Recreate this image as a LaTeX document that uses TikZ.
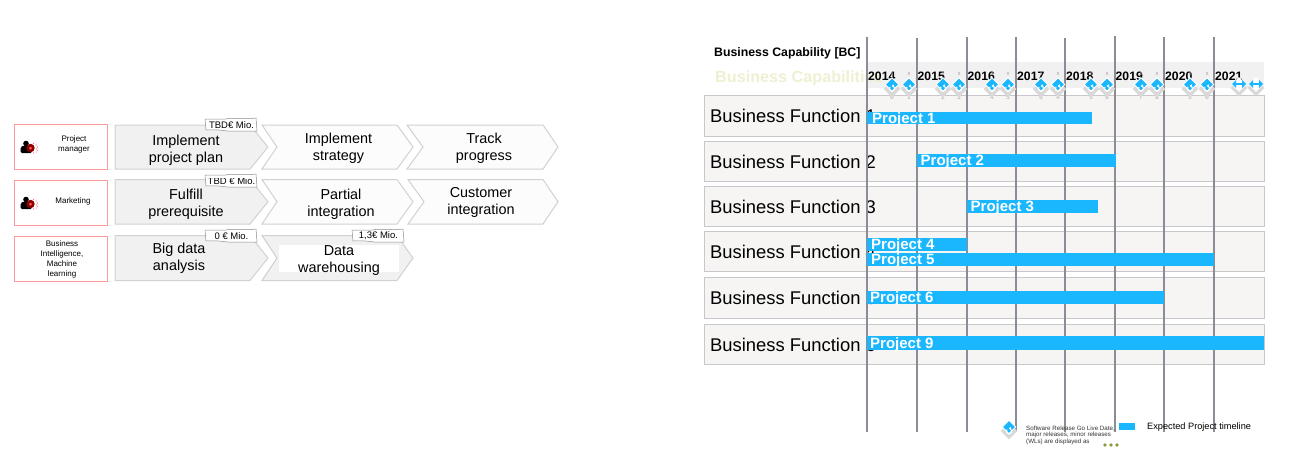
\documentclass[tikz,border=0pt]{standalone}
\usepackage{fontspec}
\setmainfont{Liberation Sans}
\usetikzlibrary{shapes.geometric, arrows.meta}

\definecolor{barblue}{HTML}{1AB7FF}
\definecolor{gridgrey}{HTML}{8C8C96}
\definecolor{rowfill}{HTML}{F6F5F4}
\definecolor{rowline}{HTML}{C8C8CC}
\definecolor{bandgrey}{HTML}{F1F1F1}
\definecolor{paleolive}{HTML}{EFF0D2}
\definecolor{roleline}{HTML}{FF9A9A}
\definecolor{olivedot}{HTML}{8F9A3C}

\tikzset{
    rolebox/.style={draw=roleline, line width=1pt, fill=white, minimum width=93.5pt, minimum height=45pt, inner sep=0pt},
    roletext/.style={font=\fontsize{8}{10}\selectfont, align=center, inner sep=0pt},
    chevronline/.style={draw=black!18, line width=1pt},
    stepname/.style={font=\fontsize{14.4}{17}\selectfont, align=center, inner sep=0pt},
    badgeline/.style={draw=black!45, fill=white, line width=0.5pt},
    badgetext/.style={font=\fontsize{9.5}{10}\selectfont, inner sep=0pt},
    rowbox/.style={draw=rowline, fill=rowfill, line width=1pt, minimum width=559.5pt, inner sep=0pt, anchor=north west},
    rowtext/.style={font=\fontsize{18.4}{20}\selectfont, anchor=west, inner sep=0pt},
    projbar/.style={fill=barblue, inner sep=0pt, anchor=north west},
    projtext/.style={font=\fontsize{15}{15}\bfseries\selectfont, text=white, anchor=west, inner sep=0pt},
    yeartext/.style={font=\fontsize{12.2}{12}\bfseries\selectfont, anchor=west, inner sep=0pt},
    backdiamond/.style={diamond, aspect=1, fill=black!15, minimum size=17pt, inner sep=0pt},
    whitediamond/.style={diamond, aspect=1, fill=white, minimum size=15pt, inner sep=0pt},
    bluediamond/.style={diamond, aspect=1, fill=barblue, minimum size=12pt, inner sep=0pt},
    tinytext/.style={font=\fontsize{6}{6}\selectfont, text=black!35, inner sep=0pt},
    legendtext/.style={font=\fontsize{6.2}{6.6}\selectfont, align=left, anchor=west, inner sep=0pt, text=black!80},
}

\begin{document}
\begin{tikzpicture}[x=1pt, y=-1pt]
    \useasboundingbox (0,0) rectangle (1299,471);

    % Left part: roles
    \node[rolebox] (role1) at (61.2,146.5) {};
    \node[rolebox] (role2) at (61.2,202.5) {};
    \node[rolebox] (role3) at (61.2,258.5) {};
    \node[roletext] (roletext1) at (74,144.5) {Project\\manager};
    \node[roletext] (roletext2) at (73,201.5) {Marketing};
    \node[roletext] (roletext3) at (62,259) {Business\\Intelligence,\\Machine\\learning};

    % Person icons
    \foreach \y in {147,203} {
        \fill[black] (26,\y-3.5) circle (2.8);
        \fill[black, rounded corners=1.5] (20.5,\y+6) -- (20.5,\y) -- (24,\y-1.5) -- (29,\y-1.5) -- (32,\y) -- (32,\y+6) -- cycle;
        \fill[red!55!black] (30.5,\y+1) circle (4.2);
        \fill[red!65] (30.5,\y+1) circle (1.5);
        \foreach \dx/\dy in {5.5/-3,6/1,5.5/4,3/-4.5,3/5,7/-1,7/2.5}
            \fill[red!55] (30.5+\dx,\y+1+\dy) circle (0.6);
    }

    % Chevrons
    \foreach \xa/\xb/\xc/\xd/\ya/\yb/\col in {
        115/115/250/268/125/169/bandgrey,
        262/277/397/413/125/169/black!1,
        407/423/543/558/125/169/black!1,
        115/115/250/268/179.5/224/bandgrey,
        262/277/397/413/179.5/224/black!1,
        408/424/543/558/179.5/224/black!1,
        115/115/250/268/235.5/280.5/bandgrey,
        262/277/397/413/235.5/280.5/bandgrey} {
        \draw[chevronline, fill=\col] (\xa,\ya) -- (\xc,\ya) -- (\xd,{(\ya+\yb)/2}) -- (\xc,\yb) -- (\xa,\yb) -- (\xb,{(\ya+\yb)/2}) -- cycle;
    }
    \fill[white] (279,245) rectangle (399,272);

    \node[stepname] (step1) at (186,150.5) {Implement\\project plan};
    \node[stepname] (step2) at (338.5,148.5) {Implement\\strategy};
    \node[stepname] (step3) at (484,148.5) {Track\\progress};
    \node[stepname] (step4) at (186,204.5) {Fulfill\\prerequisite};
    \node[stepname] (step5) at (341,204.5) {Partial\\integration};
    \node[stepname] (step6) at (481,202.5) {Customer\\integration};
    \node[stepname] (step7) at (179,258) {Big data\\analysis};
    \node[stepname] (step8) at (339,261) {Data\\warehousing};

    % Cost tags
    \foreach \i/\x/\y/\cut/\cost in {
        1/205/118/100/{TBD€ Mio.},
        2/205/174/178/{TBD € Mio.},
        3/205/229/200/{0 € Mio.},
        4/352/229/200/{1,3€ Mio.}} {
        \draw[badgeline] (\x,\y+1) -- (\x+21,\y+1) .. controls (\x+27,\y-1) and (\x+38,\y+2) .. (\x+51,\y) -- (\x+52,\y+13) -- (\x+28,\y+13) .. controls (\x+22,\y+14) and (\x+18,\y+11) .. (\x+1,\y+12) -- cycle;
        \begin{scope}
            \clip (\x,\cut) rectangle (\x+52,\y+13);
            \node[badgetext] (cost\i) at (\x+26.5,\y+7) {\cost};
        \end{scope}
    }

    % Right part: header
    \node[font=\fontsize{12.3}{12}\bfseries\selectfont, anchor=west, inner sep=0pt] (title) at (714,53) {Business Capability [BC]};
    \fill[bandgrey] (867,62) rectangle (1264,88);
    \node[font=\fontsize{16.2}{16}\bfseries\selectfont, text=paleolive, anchor=west, inner sep=0pt] (subtitle) at (715,78.5) {Business Capabilities};

    % Rows
    \foreach \i/\y/\h in {1/95/41, 2/141/40, 3/186/40, 4/231/40, 5/277/41, 6/324/40} {
        \node[rowbox, minimum height=\h pt] (row\i) at (704,\y) {};
        \node[rowtext] (rowtext\i) at ([xshift=6pt]row\i.west) {Business Function \i};
    }

    % Year lines
    \foreach \x/\t in {867/37, 917/38, 967/37, 1016/37, 1065/38, 1115/36, 1164/37, 1214/37} {
        \draw[gridgrey, line width=2pt] (\x,\t) -- (\x,432);
    }

    % Years
    \foreach \x/\yr in {868/2014, 917.5/2015, 967.5/2016, 1017/2017, 1066/2018, 1115.5/2019, 1165/2020, 1215/2021} {
        \node[yeartext] (y\yr) at (\x,76) {\yr};
    }

    % Releases
    \foreach \i/\x/\d in {1/892/0, 2/909/1, 3/943/2, 4/959/3, 5/992/4, 6/1008/5, 7/1041/6, 8/1058/4, 9/1091/5, 10/1107/6, 11/1141/7, 12/1157/8, 13/1190/5, 14/1207/0} {
        \node[tinytext] (num\i) at (\x,97) {\d};
        \node[backdiamond] (back\i) at (\x,89) {};
        \node[whitediamond] (white\i) at (\x,84.5) {};
        \node[bluediamond] (blue\i) at (\x,84.5) {};
        \node[tinytext] (top\i) at (\x,74) {x};
        \draw[white, line width=1pt, -{Latex[length=2.5pt,width=3pt]}] (\x-2,87) arc[start angle=220, end angle=-100, radius=2.6];
    }
    \foreach \i/\x in {15/1239, 16/1256} {
        \node[backdiamond] (back\i) at (\x,88) {};
        \node[whitediamond] (white\i) at (\x,84.5) {};
        \draw[barblue, line width=2.5pt] (\x-4,84) -- (\x+4,84);
        \fill[barblue] (\x-7,84) -- (\x-3,80) -- (\x-3,88) -- cycle;
        \fill[barblue] (\x+7,84) -- (\x+3,80) -- (\x+3,88) -- cycle;
    }

    % Project bars
    \foreach \i/\x/\y/\w/\h/\lx in {
        1/867/112/225/12/872,
        2/917/154/198.5/13/920.5,
        3/967/200/131/13/970.5,
        4/867/238/100/13/871,
        5/867/252.3/347/13.7/871,
        6/867/291/297/13/870,
        9/867/336/397/14/870} {
        \node[projbar, minimum width=\w pt, minimum height=\h pt] (bar\i) at (\x,\y) {};
        \node[projtext] (proj\i) at (\lx,\y+\h/2+1.5) {Project \i};
    }

    % Legend
    \node[backdiamond] (legback) at (1009,431) {};
    \node[whitediamond] (legwhite) at (1009,427) {};
    \node[bluediamond] (legblue) at (1009,427) {};
    \draw[white, line width=1pt, -{Latex[length=2.5pt,width=3pt]}] (1007,429.5) arc[start angle=220, end angle=-100, radius=2.6];
    \node[legendtext] (legtext) at (1026,435) {Software Release Go Live Date,\\major releases, minor releases\\(WLs) are displayed as};
    \foreach \x in {1105,1111,1117} {
        \fill[olivedot] (\x,445) circle (1.8);
    }
    \node[fill=barblue, minimum width=16pt, minimum height=7pt, inner sep=0pt] (legbar) at (1127,426.5) {};
    \node[font=\fontsize{9.2}{10}\selectfont, anchor=west, inner sep=0pt] (legbartext) at (1147,427) {Expected Project timeline};
\end{tikzpicture}
\end{document}
